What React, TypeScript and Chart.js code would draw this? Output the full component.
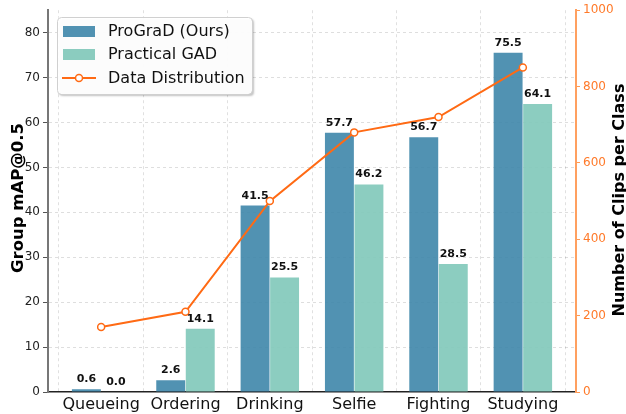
import React, { useEffect, useRef } from "react";
import { Chart, registerables } from "chart.js";

Chart.register(...registerables);

const categories = ["Queueing", "Ordering", "Drinking", "Selfie", "Fighting", "Studying"];
const prograd = [0.6, 2.6, 41.5, 57.7, 56.7, 75.5];
const practical = [0.0, 14.1, 25.5, 46.2, 28.5, 64.1];
const clips = [170, 210, 500, 680, 720, 850];
const leftTicks = [0, 10, 20, 30, 40, 50, 60, 70, 80];
const rightTicks = [0, 200, 400, 600, 800, 1000];

const BLUE = "rgba(62,134,170,0.9)";
const GREEN = "rgba(130,201,187,0.92)";
const ORANGE = "#ff6a14";
const FONT = "'DejaVu Sans', sans-serif";

const overlay = {
  id: "overlay",
  afterDatasetsDraw(chart: any) {
    const ctx = chart.ctx;
    ctx.save();
    ctx.font = `bold 11px ${FONT}`;
    ctx.fillStyle = "#111";
    ctx.textAlign = "center";
    ctx.textBaseline = "alphabetic";
    [1, 2].forEach((di) => {
      const meta = chart.getDatasetMeta(di);
      const vals = di === 1 ? prograd : practical;
      meta.data.forEach((el: any, i: number) => {
        ctx.fillText(vals[i].toFixed(1), el.x, el.y - 7);
      });
    });
    ctx.restore();
  },
  afterDraw(chart: any) {
    const ctx = chart.ctx;
    ctx.save();
    ctx.font = `bold 16.5px ${FONT}`;
    ctx.fillStyle = "#000";
    ctx.textAlign = "center";
    ctx.textBaseline = "middle";
    ctx.translate(19, 198);
    ctx.rotate(-Math.PI / 2);
    ctx.fillText("Group mAP@0.5", 0, 0);
    ctx.restore();
    ctx.save();
    ctx.font = `bold 16px ${FONT}`;
    ctx.fillStyle = "#000";
    ctx.textAlign = "center";
    ctx.textBaseline = "middle";
    ctx.translate(620, 200);
    ctx.rotate(-Math.PI / 2);
    ctx.fillText("Number of Clips per Class", 0, 0);
    ctx.restore();

    // legend
    const lx = 57, ly = 17, lw = 195, lh = 77;
    ctx.save();
    ctx.shadowColor = "rgba(0,0,0,0.25)";
    ctx.shadowOffsetX = 2;
    ctx.shadowOffsetY = 2;
    ctx.shadowBlur = 2;
    ctx.fillStyle = "rgba(255,255,255,0.95)";
    ctx.beginPath();
    ctx.roundRect(lx, ly, lw, lh, 4);
    ctx.fill();
    ctx.restore();
    ctx.save();
    ctx.strokeStyle = "#d0d0d0";
    ctx.lineWidth = 1;
    ctx.beginPath();
    ctx.roundRect(lx + 0.5, ly + 0.5, lw, lh, 4);
    ctx.stroke();
    ctx.font = `16px ${FONT}`;
    ctx.fillStyle = "#111";
    ctx.textBaseline = "middle";
    ctx.textAlign = "left";
    const labels = ["ProGraD (Ours)", "Practical GAD", "Data Distribution"];
    const rows = [31, 54, 78];
    ctx.fillStyle = BLUE;
    ctx.fillRect(63, rows[0] - 5, 32, 11);
    ctx.fillStyle = GREEN;
    ctx.fillRect(63, rows[1] - 5, 32, 11);
    ctx.strokeStyle = ORANGE;
    ctx.lineWidth = 2;
    ctx.beginPath();
    ctx.moveTo(62, rows[2]);
    ctx.lineTo(96, rows[2]);
    ctx.stroke();
    ctx.fillStyle = "#fff";
    ctx.lineWidth = 1.5;
    ctx.beginPath();
    ctx.arc(79, rows[2], 3.5, 0, Math.PI * 2);
    ctx.fill();
    ctx.stroke();
    ctx.fillStyle = "#111";
    labels.forEach((t, i) => ctx.fillText(t, 108, rows[i] + 1));
    ctx.restore();
  },
};

export default function App() {
  const ref = useRef<HTMLCanvasElement | null>(null);
  useEffect(() => {
    document.body.style.margin = "0";
    const canvas = ref.current!;
    const chart = new Chart(canvas, {
      type: "bar",
      data: {
        datasets: [
          {
            type: "line",
            label: "Data Distribution",
            data: clips.map((v, i) => ({ x: i, y: v })),
            yAxisID: "y1",
            borderColor: ORANGE,
            borderWidth: 2,
            pointRadius: 3.5,
            pointBorderWidth: 1.5,
            pointBackgroundColor: "#fff",
            pointBorderColor: ORANGE,
            order: 0,
          } as any,
          {
            label: "ProGraD (Ours)",
            data: prograd.map((v, i) => ({ x: i, y: v })),
            backgroundColor: BLUE,
            borderWidth: 0,
            yAxisID: "y",
            order: 1,
            categoryPercentage: 0.7,
            barPercentage: 0.98,
          },
          {
            label: "Practical GAD",
            data: practical.map((v, i) => ({ x: i, y: v })),
            backgroundColor: GREEN,
            borderWidth: 0,
            yAxisID: "y",
            order: 1,
            categoryPercentage: 0.7,
            barPercentage: 0.98,
          },
        ],
      },
      options: {
        animation: false,
        responsive: false,
        layout: { padding: { top: 10, left: 0, right: 0, bottom: 0 } },
        plugins: { legend: { display: false }, tooltip: { enabled: false } },
        scales: {
          x: {
            type: "linear",
            min: -0.63,
            max: 5.63,
            offset: false,
            afterBuildTicks(scale: any) {
              scale.ticks = categories.map((_, i) => ({ value: i }));
            },
            afterFit(scale: any) {
              scale.height = 22;
            },
            ticks: {
              autoSkip: false,
              maxRotation: 0,
              padding: 3,
              color: "#111",
              font: { family: FONT, size: 16 },
              callback: (v: any) => categories[v] ?? "",
            },
            grid: {
              color: "rgba(0,0,0,0.12)",
              tickLength: 0,
              drawTicks: false,
            },
            border: { dash: [3, 3], display: true, color: "#222", width: 1.5 } as any,
          },
          y: {
            position: "left",
            min: 0,
            max: 85,
            afterBuildTicks(scale: any) {
              scale.ticks = leftTicks.map((v) => ({ value: v }));
            },
            afterFit(scale: any) {
              scale.width = 48;
            },
            ticks: {
              color: "#222",
              padding: 3,
              font: { family: FONT, size: 12 },
            },
            grid: {
              color: (c: any) => (c.tick && c.tick.value === 0 ? "rgba(0,0,0,0)" : "rgba(0,0,0,0.13)"),
              tickLength: 5,
              tickColor: "#555",
              drawOnChartArea: true,
            },
            border: { dash: [3, 3], display: true, color: "#777", width: 2 } as any,
          },
          y1: {
            position: "right",
            min: 0,
            max: 1000,
            afterBuildTicks(scale: any) {
              scale.ticks = rightTicks.map((v) => ({ value: v }));
            },
            afterFit(scale: any) {
              scale.width = 50;
            },
            ticks: {
              color: "#ff7a2a",
              padding: 3,
              font: { family: FONT, size: 12 },
              callback: (v: any) => String(v),
            },
            grid: {
              drawOnChartArea: false,
              tickLength: 4,
              tickColor: "#ff9a55",
            },
            border: { display: true, color: "#ffa060", width: 2 },
          },
        },
      },
      plugins: [overlay],
    } as any);
    return () => chart.destroy();
  }, []);
  return <canvas ref={ref} width={626} height={414} style={{ display: "block" }} />;
}
